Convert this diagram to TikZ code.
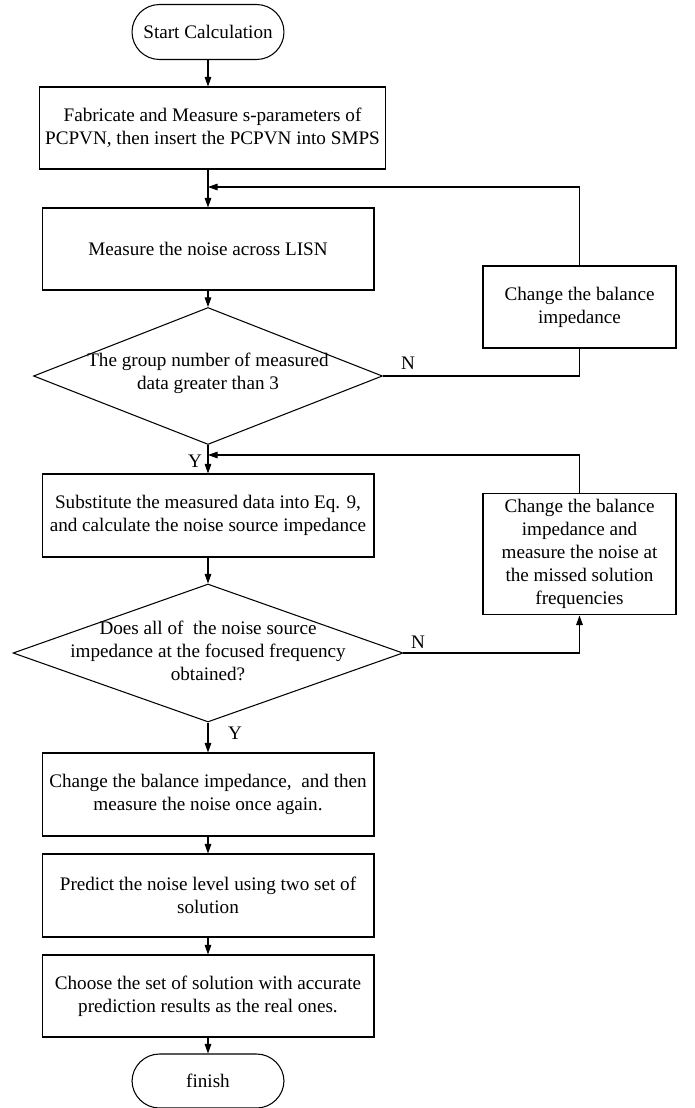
\documentclass[tikz,border=0pt]{standalone}
\usepackage{fontspec}
\setmainfont{Liberation Serif}
\usepackage{tikz}
\usetikzlibrary{shapes.geometric, arrows.meta}

\begin{document}
\begin{tikzpicture}[x=0.02cm, y=-0.02cm, line width=0.6pt,
        >={Triangle[length=5.5pt, width=3.8pt]},
        every node/.style={font=\fontsize{10.9}{13.2}\selectfont, align=center},
        proc/.style={rectangle, draw, minimum width=6.64cm, minimum height=1.64cm},
        side/.style={rectangle, draw, minimum width=3.86cm, minimum height=1.64cm},
        term/.style={rectangle, draw, rounded corners=0.55cm, minimum width=3.04cm, minimum height=1.1cm},
        decide/.style={diamond, draw, inner sep=0pt}]
        \useasboundingbox (0,0) rectangle (694,1108);

        % main column
        \node[term] (1) at (208,32) {Start Calculation};
        \node[proc, minimum width=6.78cm] (2) at (212.5,128) {Fabricate and Measure s-parameters of\\PCPVN, then insert the PCPVN into SMPS};
        \node[proc] (3) at (208,249) {Measure the noise across LISN};
        \node[decide, minimum width=6.98cm, minimum height=2.74cm] (4) at (208,376) {};
        \node (4t) at (208,373) {The group number of measured\\data greater than 3};
        \node[proc, minimum height=1.66cm] (5) at (208,515.5) {Substitute the measured data into Eq. 9,\\and calculate the noise source impedance};
        \node[decide, minimum width=7.8cm, minimum height=2.76cm] (6) at (208,653) {};
        \node (6t) at (208,651) {Does all of \ the noise source\\impedance at the focused frequency\\obtained?};
        \node[proc, minimum height=1.66cm] (7) at (208,794.5) {Change the balance impedance, \ and then\\measure the noise once again.};
        \node[proc, minimum height=1.66cm] (8) at (208,895.5) {Predict the noise level using two set of\\solution};
        \node[proc] (9) at (208,996) {Choose the set of solution with accurate\\prediction results as the real ones.};
        \node[term, minimum height=1.08cm] (10) at (208,1081) {finish};

        % feedback boxes
        \node[side] (11) at (579.5,307) {Change the balance\\impedance};
        \node[side, minimum height=2.4cm] (12) at (579.5,554) {Change the balance\\impedance and\\measure the noise at\\the missed solution\\frequencies};
        \coordinate (c1) at (208,187);
        \coordinate (c2) at (208,455);

        \node (n1) at (408,363) {N};
        \node (y1) at (195,461) {Y};
        \node (n2) at (418,642) {N};
        \node (y2) at (235,733) {Y};

        \draw[->] (1) -- (1 |- 2.north);
        \draw[->] (2.south -| 3) -- (3);
        \draw[->] (3) -- (4);
        \draw[->] (4) -- (5);
        \draw[->] (5) -- (6);
        \draw[->] (6) -- (7);
        \draw[->] (7) -- (8);
        \draw[->] (8) -- (9);
        \draw[->] (9) -- (10);

        \draw (4.east) -| (11);
        \draw[->] (11.north) |- (c1);
        \draw[->] (6.east) -| (12);
        \draw[->] (12.north) |- (c2);

\end{tikzpicture}
\end{document}
